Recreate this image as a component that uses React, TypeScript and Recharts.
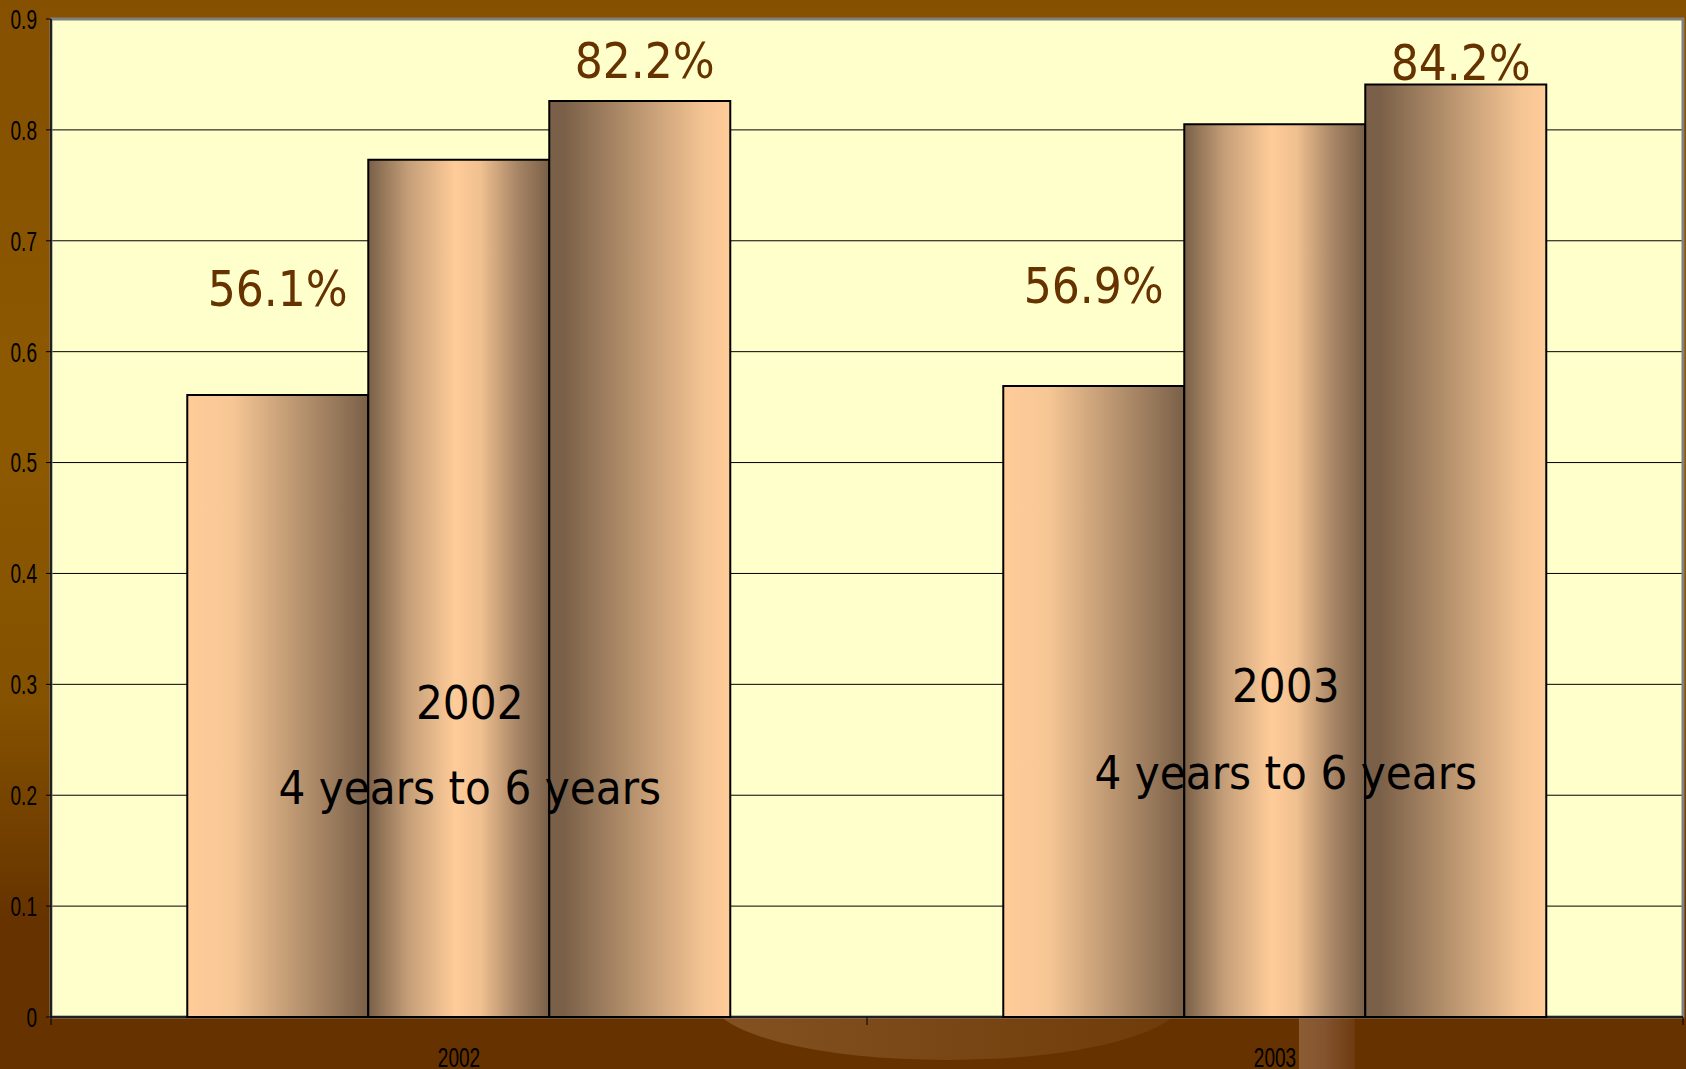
import { Bar, BarChart, CartesianGrid, LabelList, ReferenceArea, XAxis, YAxis } from "recharts";

// values
const years = ["2002", "2003"];
const firstBar = [0.561, 0.569];
const middleBar = [0.773, 0.805];
const lastBar = [0.826, 0.841];

const firstLabels = ["56.1%", "56.9%"];
const lastLabels = ["82.2%", "84.2%"];
const captionYear = ["2002", "2003"];
const captionSpan = ["4 years to 6 years", "4 years to 6 years"];

const yTicks = [0, 0.1, 0.2, 0.3, 0.4, 0.5, 0.6, 0.7, 0.8, 0.9];

// baseline heights (axis units) of the floating text boxes
const firstLabelLevel = [0.641, 0.644];
const lastLabelLevel = [0.847, 0.845];
const yearLevel = [0.269, 0.284];
const spanLevel = [0.192, 0.206];

const data = years.map((year, i) => ({
  year,
  first: firstBar[i],
  middle: middleBar[i],
  last: lastBar[i],
}));

const W = 1686;
const H = 1069;
const LIGHT = "#FFCC99";
const DARK = "#7A6048";
const BROWN = "#663300";
const bigFont = "'DejaVu Sans', Verdana, sans-serif";
const axisFont = "'Liberation Sans', Arial, sans-serif";

// y pixel of an axis value, derived from the bar's own geometry
function levelY(props: any, level: number) {
  const vb = props.viewBox ?? props;
  const bottom = vb.y + vb.height;
  const perUnit = vb.height / props.value;
  return { cx: vb.x + vb.width / 2, y: bottom - level * perUnit };
}

const floatingLabel =
  (texts: string[], levels: number[], dx: number) => (props: any) => {
    const i = props.index;
    const { cx, y } = levelY(props, levels[i]);
    return (
      <text
        x={cx + dx}
        y={y}
        textAnchor="middle"
        fill={BROWN}
        fontFamily={bigFont}
        fontSize={49}
        style={{ fontStretch: "condensed" }}
      >
        {texts[i]}
      </text>
    );
  };

const caption = (props: any) => {
  const i = props.index;
  const a = levelY(props, yearLevel[i]);
  const b = levelY(props, spanLevel[i]);
  const style = { fontStretch: "condensed" };
  return (
    <g>
      <text x={a.cx + 11} y={a.y} textAnchor="middle" fill="#000" fontFamily={bigFont} fontSize={47} style={style}>
        {captionYear[i]}
      </text>
      <text x={b.cx + 11} y={b.y} textAnchor="middle" fill="#000" fontFamily={bigFont} fontSize={47} style={style}>
        {captionSpan[i]}
      </text>
    </g>
  );
};

const YTick = (props: any) => {
  const { x, y, payload } = props;
  return (
    <text
      transform={`translate(${x},${y}) scale(0.68,1)`}
      textAnchor="end"
      dominantBaseline="central"
      fontFamily={axisFont}
      fontSize={28}
      fill="#000"
    >
      {payload.value}
    </text>
  );
};

const XTick = (props: any) => {
  const { x, y, payload, index, visibleTicksCount } = props;
  const half = payload.offset ?? 408;
  const isLast = index === (visibleTicksCount ?? 2) - 1;
  return (
    <g>
      <line x1={x - half} x2={x - half} y1={y - 8} y2={y} stroke="#000" />
      {isLast && <line x1={x + half} x2={x + half} y1={y - 8} y2={y} stroke="#000" />}
      <text
        transform={`translate(${x},${y + 42}) scale(0.68,1)`}
        textAnchor="middle"
        fontFamily={axisFont}
        fontSize={28}
        fill="#000"
      >
        {payload.value}
      </text>
    </g>
  );
};

export default function App() {
  return (
    <div
      style={{
        position: "absolute",
        left: 0,
        top: 0,
        width: W,
        height: H,
        overflow: "hidden",
        background:
          "linear-gradient(to bottom, #855000 0%, #8D5900 40%, #845100 66%, #663300 86%, #663300 100%)",
      }}
    >
      {/* slide decoration behind the chart */}
      <div
        style={{
          position: "absolute",
          left: 712,
          top: 940,
          width: 470,
          height: 120,
          borderRadius: "50%",
          background:
            "linear-gradient(to right, rgba(180,130,85,0.38), rgba(170,120,75,0.12))",
        }}
      />
      <div
        style={{
          position: "absolute",
          left: 1299,
          top: 1000,
          width: 56,
          height: 69,
          background: "linear-gradient(to right, #8C5D34 0%, #845430 45%, #6E3B10 100%)",
        }}
      />
      <div style={{ position: "absolute", left: 0, top: 0 }}>
        <BarChart
          width={W}
          height={H}
          data={data}
          margin={{ top: 19, right: 3, bottom: 0, left: 0 }}
          barCategoryGap="16.7%"
          barGap={0}
        >
          <defs>
            <linearGradient id="gFirst" x1="0" y1="0" x2="1" y2="0">
              <stop offset="0%" stopColor={LIGHT} />
              <stop offset="25%" stopColor="#F6C695" />
              <stop offset="100%" stopColor={DARK} />
            </linearGradient>
            <linearGradient id="gMiddle" x1="0" y1="0" x2="1" y2="0">
              <stop offset="0%" stopColor={DARK} />
              <stop offset="22%" stopColor="#C49E78" />
              <stop offset="48%" stopColor={LIGHT} />
              <stop offset="62%" stopColor="#F0C090" />
              <stop offset="82%" stopColor="#A88666" />
              <stop offset="100%" stopColor={DARK} />
            </linearGradient>
            <linearGradient id="gLast" x1="0" y1="0" x2="1" y2="0">
              <stop offset="0%" stopColor={DARK} />
              <stop offset="8%" stopColor={DARK} />
              <stop offset="85%" stopColor="#F4C493" />
              <stop offset="100%" stopColor={LIGHT} />
            </linearGradient>
          </defs>
          <CartesianGrid vertical={false} stroke="#000" strokeWidth={1} fill="#FFFFCC" fillOpacity={1} />
          <ReferenceArea y1={0} y2={0.9} fill="none" stroke="#808080" strokeWidth={3} ifOverflow="visible" />
          <XAxis
            dataKey="year"
            height={52}
            tickLine={false}
            tickSize={8}
            tickMargin={0}
            axisLine={{ stroke: "#000", strokeWidth: 1.5 }}
            tick={<XTick />}
            interval={0}
          />
          <YAxis
            type="number"
            domain={[0, 0.9]}
            ticks={yTicks}
            interval={0}
            width={51}
            tickSize={5}
            tickMargin={9}
            axisLine={{ stroke: "#000", strokeWidth: 1.5 }}
            tickLine={{ stroke: "#000" }}
            tick={<YTick />}
          />
          <Bar dataKey="first" fill="url(#gFirst)" stroke="#000" strokeWidth={2} isAnimationActive={false}>
            <LabelList dataKey="first" content={floatingLabel(firstLabels, firstLabelLevel, 0)} />
          </Bar>
          <Bar dataKey="middle" fill="url(#gMiddle)" stroke="#000" strokeWidth={2} isAnimationActive={false}>
            <LabelList dataKey="middle" content={caption} />
          </Bar>
          <Bar dataKey="last" fill="url(#gLast)" stroke="#000" strokeWidth={2} isAnimationActive={false}>
            <LabelList dataKey="last" content={floatingLabel(lastLabels, lastLabelLevel, 5)} />
          </Bar>
        </BarChart>
      </div>
    </div>
  );
}
